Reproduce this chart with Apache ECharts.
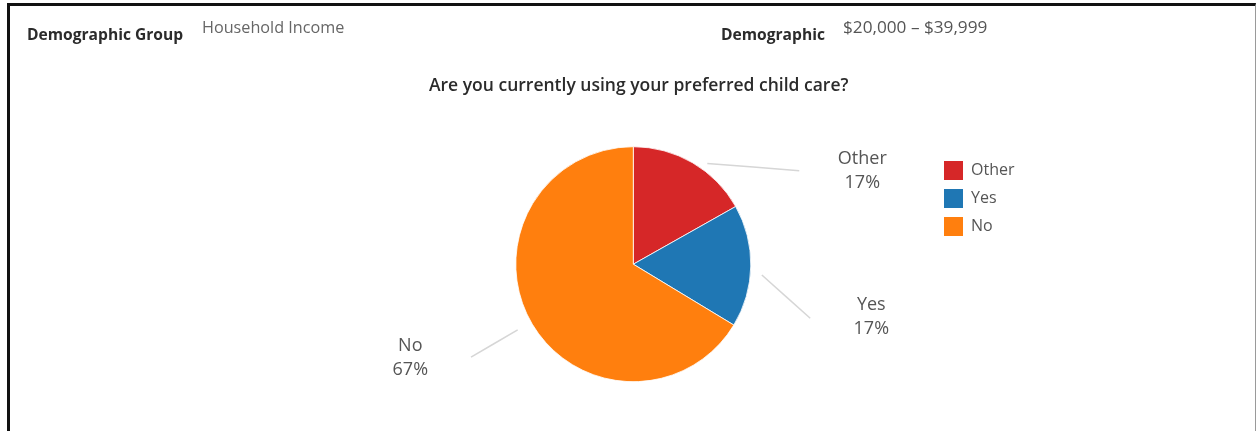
<!DOCTYPE html>
<html>
<head>
<meta charset="utf-8">
<script src="https://cdn.jsdelivr.net/npm/echarts@6/dist/echarts.min.js"></script>
<style>
  html, body { margin: 0; padding: 0; background: #fff; }
  #chart { position: absolute; left: 0; top: 0; width: 1257px; height: 431px; }
  #frame {
    position: absolute; left: 7px; top: 3px; width: 1249px; height: 460px;
    box-sizing: border-box; pointer-events: none;
    border-top: 3px solid #111; border-left: 3px solid #111; border-right: 1px solid #9a9a9a;
  }
</style>
</head>
<body>
<div id="chart"></div>
<div id="frame"></div>
<script>
// Survey answers and their share of respondents (percent)
const categories = ['Other', 'Yes', 'No'];
const shares = [17, 17, 67];
const sliceColors = ['#d62728', '#1f77b4', '#ff7f0e'];

// Header filter texts
const filterLabels = ['Demographic Group', 'Demographic'];
const filterValues = ['Household Income', '$20,000 \u2013 $39,999'];
const questionTitle = 'Are you currently using your preferred child care?';

// Pie geometry (pixels)
const CX = 633.3, CY = 264.2, R = 117.5;

// Leader lines given as [angle clockwise from 12 o'clock, distance from centre],
// plus the offset of each label's centre from the pie centre.
const labelGuides = [
  { from: [36.3, 125], to: [60.6, 190.5], text: [229, -93] },
  { from: [94.8, 129], to: [107, 185],    text: [238, 53] },
  { from: [240.4, 133], to: [240.2, 187], text: [-223, 94] }
];

const FONT = 'Open Sans';

function polar(a, r) {
  const t = a * Math.PI / 180;
  return [CX + r * Math.sin(t), CY - r * Math.cos(t)];
}

const chart = echarts.init(document.getElementById('chart'), null, { renderer: 'canvas' });

chart.setOption({
  animation: false,
  color: sliceColors,
  title: [
    { text: filterLabels[0], left: 27, top: 26, padding: 0,
      textStyle: { fontFamily: FONT, fontSize: 15.6, fontWeight: 'bold', color: '#2b2b2b', lineHeight: 20 } },
    { text: filterValues[0], left: 202, top: 18, padding: 0,
      textStyle: { fontFamily: FONT, fontSize: 16.2, fontWeight: 'normal', color: '#666', lineHeight: 20 } },
    { text: filterLabels[1], left: 721, top: 26, padding: 0,
      textStyle: { fontFamily: FONT, fontSize: 15.6, fontWeight: 'bold', color: '#2b2b2b', lineHeight: 20 } },
    { text: filterValues[1], left: 843, top: 18, padding: 0,
      textStyle: { fontFamily: FONT, fontSize: 17.2, fontWeight: 'normal', color: '#555', lineHeight: 20 } },
    { text: questionTitle, left: 429, top: 76, padding: 0,
      textStyle: { fontFamily: FONT, fontSize: 17.5, fontWeight: 600, color: '#2b2b2b', lineHeight: 20 } }
  ],
  legend: {
    data: categories,
    orient: 'vertical',
    left: 944, top: 161,
    padding: 0,
    icon: 'rect',
    itemWidth: 19, itemHeight: 19, itemGap: 9,
    selectedMode: false,
    itemStyle: { borderWidth: 0 },
    textStyle: { fontFamily: FONT, fontSize: 16, color: '#555', lineHeight: 19, padding: [0, 0, 0, 3] }
  },
  series: [{
    type: 'pie',
    center: [CX, CY],
    radius: [0, R],
    startAngle: 90,
    clockwise: true,
    silent: true,
    emphasis: { disabled: true },
    itemStyle: { borderColor: '#ffffff', borderWidth: 0.8 },
    label: {
      show: true,
      position: 'outside',
      formatter: '{b}\n{c}%',
      fontFamily: FONT,
      fontSize: 18,
      lineHeight: 24,
      color: '#555',
      align: 'center'
    },
    labelLine: { show: true, lineStyle: { color: '#d6d6d6', width: 1.5 } },
    labelLayout: function (p) {
      const g = labelGuides[p.dataIndex];
      const s = polar(g.from[0], g.from[1]);
      const e = polar(g.to[0], g.to[1]);
      return {
        x: CX + g.text[0],
        y: CY + g.text[1],
        align: 'center',
        verticalAlign: 'middle',
        labelLinePoints: [s, [(s[0] + e[0]) / 2, (s[1] + e[1]) / 2], e]
      };
    },
    data: categories.map((name, i) => ({ name: name, value: shares[i] }))
  }]
});
</script>
</body>
</html>
